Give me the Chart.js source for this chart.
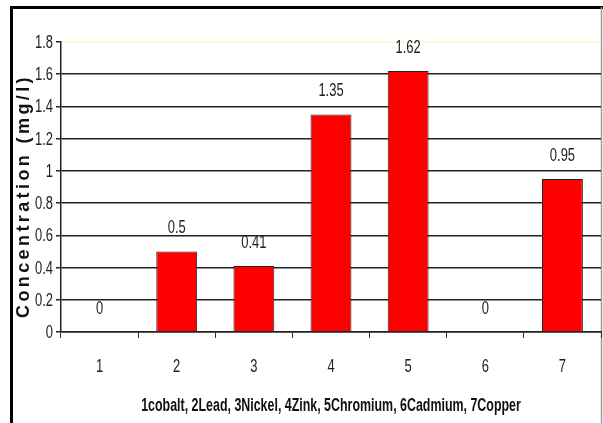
<!DOCTYPE html>
<html>
<head>
<meta charset="utf-8">
<script src="https://cdn.jsdelivr.net/npm/chart.js@4"></script>
<style>
  html, body { margin: 0; padding: 0; background: #fff; }
  #wrap { width: 603px; height: 423px; }
</style>
</head>
<body>
<div id="wrap"><canvas id="myChart"></canvas></div>
<script>
const categories = ["1", "2", "3", "4", "5", "6", "7"];
const concentration = [0, 0.5, 0.41, 1.35, 1.62, 0, 0.95];
const valueLabels = ["0", "0.5", "0.41", "1.35", "1.62", "0", "0.95"];
const yTicks = [0, 0.2, 0.4, 0.6, 0.8, 1, 1.2, 1.4, 1.6, 1.8];
const yTitle = "Concentration (mg/l)";
const xTitle = "1cobalt, 2Lead, 3Nickel, 4Zink, 5Chromium, 6Cadmium, 7Copper";

const sans = "'Liberation Sans', Arial, sans-serif";

// Arial Narrow look: Liberation Sans squeezed sideways
function narrowText(c, text, x, y, align, font, sx) {
  c.save();
  c.font = font;
  c.textAlign = align;
  c.textBaseline = "middle";
  c.translate(x, y);
  c.scale(sx, 1);
  c.fillText(text, 0, 0);
  c.restore();
}

const extras = {
  id: "extras",
  beforeDraw(chart) {
    const c = chart.ctx;
    c.save();
    c.fillStyle = "#fff";
    c.fillRect(0, 0, chart.width, chart.height);
    c.strokeStyle = "#000";
    c.lineWidth = 3;
    c.beginPath();
    c.moveTo(11.5, 423);
    c.lineTo(11.5, 7.5);
    c.lineTo(603, 7.5);
    c.stroke();
    c.strokeStyle = "#999";
    c.lineWidth = 1.5;
    c.beginPath();
    c.moveTo(601.5, 7);
    c.lineTo(601.5, 423);
    c.stroke();
    c.restore();
  },
  afterDraw(chart) {
    const c = chart.ctx;
    const area = chart.chartArea;
    const xs = chart.scales.x;
    const ys = chart.scales.y;

    // y title
    c.save();
    c.translate(24, 196);
    c.rotate(-Math.PI / 2);
    c.font = "bold 18px " + sans;
    c.letterSpacing = "3.4px";
    c.fillStyle = "#111";
    c.textAlign = "center";
    c.textBaseline = "middle";
    c.fillText(yTitle, 0, 0);
    c.restore();

    c.fillStyle = "#222";
    const tickFont = "18px " + sans;
    yTicks.forEach((v) => {
      narrowText(c, String(v), area.left - 8, ys.getPixelForValue(v) + 1, "right", tickFont, 0.72);
    });
    categories.forEach((lab, i) => {
      narrowText(c, lab, xs.getPixelForValue(i), 367, "center", tickFont, 0.72);
    });

    const meta = chart.getDatasetMeta(0);
    meta.data.forEach((bar, i) => {
      narrowText(c, valueLabels[i], bar.x, bar.y - 23, "center", tickFont, 0.72);
    });

    c.fillStyle = "#111";
    narrowText(c, xTitle, (area.left + area.right) / 2, 406, "center", "bold 18px " + sans, 0.69);
  }
};

new Chart(document.getElementById("myChart"), {
  type: "bar",
  data: {
    labels: categories,
    datasets: [
      {
        data: concentration,
        backgroundColor: "#ff0000",
        borderColor: "#222",
        borderWidth: 1,
        barPercentage: 0.53,
        categoryPercentage: 1,
      },
    ],
  },
  options: {
    responsive: true,
    maintainAspectRatio: false,
    animation: false,
    layout: {
      padding: { left: 0, right: 2, top: 42, bottom: 0 },
    },
    plugins: {
      legend: { display: false },
      tooltip: { enabled: false },
    },
    scales: {
      x: {
        offset: true,
        afterFit(scale) {
          scale.height = 91;
        },
        grid: {
          offset: true,
          drawOnChartArea: false,
          color: "#333",
          tickLength: 6,
        },
        border: { color: "#222", width: 1.5 },
        ticks: { display: false },
      },
      y: {
        min: 0,
        max: 1.8,
        afterFit(scale) {
          scale.width = 61;
        },
        ticks: { stepSize: 0.2, display: false },
        grid: {
          color: (ctx) => (ctx.tick && ctx.tick.value >= 1.8 ? "#fdf8d0" : "#222"),
          lineWidth: 1.5,
          tickLength: 5,
          tickColor: "#222",
        },
        border: { color: "#222", width: 1.5 },
      },
    },
  },
  plugins: [extras],
});
</script>
</body>
</html>
